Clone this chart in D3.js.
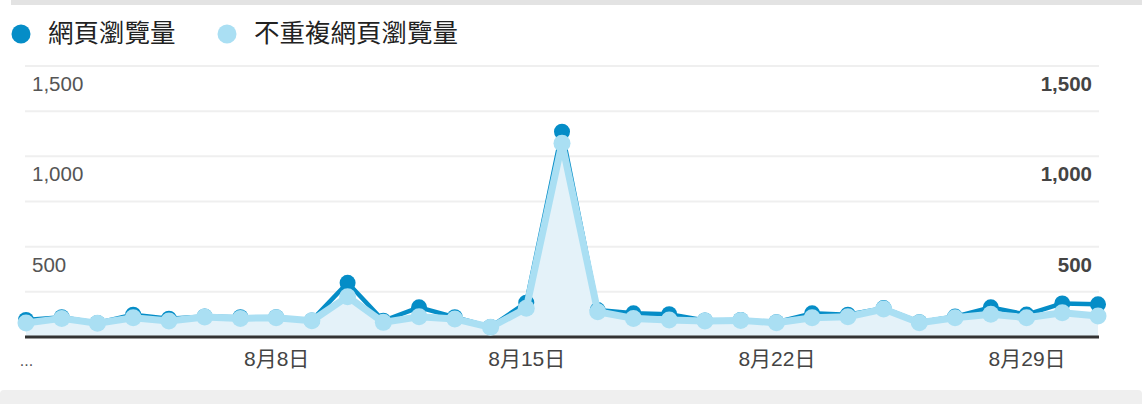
<!DOCTYPE html>
<html>
<head>
<meta charset="utf-8">
<script src="https://cdn.jsdelivr.net/npm/d3@7"></script>
<style>
  html, body { margin: 0; padding: 0; background: #fff; }
  svg { display: block; }
</style>
</head>
<body>
<svg id="chart" width="1142" height="404"></svg>
<script>
// ---- data ----
const days = d3.range(1, 32); // 8月1日 .. 8月31日
const pageviews = [94, 110, 78, 123, 101, 114, 110, 110, 92, 300, 90, 164, 110, 56, 190, 1136,
                   149, 131, 126, 92, 94, 82, 131, 123, 160, 82, 113, 164, 124, 186, 181];
const uniquePageviews = [77, 103, 76, 107, 88, 111, 103, 107, 90, 223, 81, 112, 100, 54, 159, 1072,
                   140, 103, 94, 89, 92, 79, 107, 112, 155, 79, 107, 126, 107, 134, 116];
const seriesNames = ["網頁瀏覽量", "不重複網頁瀏覽量"];
const xTickDays = [1, 8, 15, 22, 29];
const xTickLabels = ["...", "8月8日", "8月15日", "8月22日", "8月29日"];
const yGridValues = [250, 500, 750, 1000, 1250, 1500];
const yLabelValues = [500, 1000, 1500];

// ---- styles ----
const darkBlue = "#058dc7";
const lightBlue = "#aadff3";
const areaFill = "#e4f2f9";
const latinFont = "'Liberation Sans', Arial, 'Noto Sans CJK TC', sans-serif";
const cjkFont = "'Noto Sans CJK TC', 'Liberation Sans', sans-serif";

const svg = d3.select("#chart");

// page frame
svg.append("rect").attr("x", 11).attr("y", 0).attr("width", 1131).attr("height", 5).attr("fill", "#e3e3e3");
svg.append("rect").attr("x", 0).attr("y", 390).attr("width", 1142).attr("height", 20).attr("rx", 4).attr("fill", "#efefef");

const x = d3.scaleLinear().domain([1, 31]).range([26, 1098]);
const y = d3.scaleLinear().domain([0, 1500]).range([337, 66]);

// gridlines
svg.append("g").selectAll("line").data(yGridValues).join("line")
  .attr("x1", 25).attr("x2", 1099)
  .attr("y1", d => y(d)).attr("y2", d => y(d))
  .attr("stroke", "#efefef").attr("stroke-width", 2);

// y labels
const fmt = d3.format(",");
svg.append("g").selectAll("text").data(yLabelValues).join("text")
  .attr("x", 32).attr("y", d => y(d) + 25)
  .attr("font-family", latinFont).attr("font-size", 20.5).attr("fill", "#555")
  .text(d => fmt(d));
svg.append("g").selectAll("text").data(yLabelValues).join("text")
  .attr("x", 1092).attr("y", d => y(d) + 25).attr("text-anchor", "end")
  .attr("font-family", latinFont).attr("font-size", 20.5).attr("font-weight", "bold").attr("fill", "#444")
  .text(d => fmt(d));

// area under unique pageviews
const area = d3.area().x((d, i) => x(days[i])).y0(y(0)).y1(d => y(d));
svg.append("path").datum(uniquePageviews).attr("d", area).attr("fill", areaFill);

// baseline axis
svg.append("line").attr("x1", 25).attr("x2", 1099).attr("y1", 337).attr("y2", 337)
  .attr("stroke", "#333").attr("stroke-width", 3);

const line = d3.line().x((d, i) => x(days[i])).y(d => y(d));

// pageviews series
svg.append("path").datum(pageviews).attr("d", line)
  .attr("fill", "none").attr("stroke", darkBlue).attr("stroke-width", 4.5).attr("stroke-linejoin", "round");
svg.append("g").selectAll("circle").data(pageviews).join("circle")
  .attr("cx", (d, i) => x(days[i])).attr("cy", d => y(d)).attr("r", 8).attr("fill", darkBlue);

// unique pageviews series
svg.append("path").datum(uniquePageviews).attr("d", line)
  .attr("fill", "none").attr("stroke", lightBlue).attr("stroke-width", 7).attr("stroke-linejoin", "round");
svg.append("g").selectAll("circle").data(uniquePageviews).join("circle")
  .attr("cx", (d, i) => x(days[i])).attr("cy", d => y(d)).attr("r", 8.5).attr("fill", lightBlue);

// x axis labels
const xAxis = d3.axisBottom(x).tickValues(xTickDays)
  .tickFormat((d, i) => xTickLabels[i]).tickSize(0).tickPadding(0);
const xg = svg.append("g").attr("transform", "translate(0,337)").call(xAxis);
xg.select(".domain").remove();
xg.selectAll("text")
  .attr("y", 28.5).attr("dy", null)
  .attr("font-family", latinFont).attr("font-size", 21).attr("fill", "#444");
xg.selectAll(".tick").filter((d, i) => i === 0).select("text")
  .attr("font-size", 16).attr("y", 29).attr("fill", "#555");

// legend
const legendColors = [darkBlue, lightBlue];
const legendX = [21, 227];
const lg = svg.append("g");
seriesNames.forEach((name, i) => {
  lg.append("circle").attr("cx", legendX[i]).attr("cy", 34).attr("r", 9.5).attr("fill", legendColors[i]);
  lg.append("text").attr("x", legendX[i] + 27).attr("y", 42)
    .attr("font-family", cjkFont).attr("font-size", 25.5).attr("fill", "#222")
    .text(name);
});
</script>
</body>
</html>
